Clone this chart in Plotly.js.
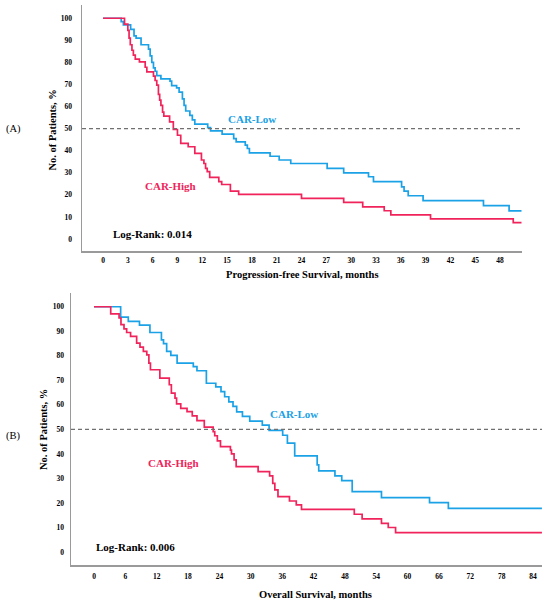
<!DOCTYPE html>
<html>
<head>
<meta charset="utf-8">
<script src="https://cdn.plot.ly/plotly-3.0.1.min.js"></script>
<style>html,body{margin:0;padding:0;background:#fff;}#chart{width:550px;height:605px;}</style>
</head>
<body>
<div id="chart"></div>
<script>
// ---- Data ----
// Progression-free survival, CAR-High
const pfsHighT = [0, 2.6, 3.0, 3.15, 3.3, 3.5, 3.67, 3.9, 4.4, 5.1, 5.3, 6.1, 6.3, 6.5, 6.7, 6.85, 7.0, 7.2, 7.35, 8.05, 8.5, 9.0, 9.4, 10.3, 11.1, 11.9, 12.2, 12.4, 12.6, 12.9, 14.0, 14.35, 15.4, 16.4, 24.0, 29.1, 31.4, 34.0, 34.8, 39.6, 49.6, 50.6];
const pfsHighS = [100, 97.3, 94.5, 91, 88, 85.5, 83.3, 81.5, 80.2, 77.8, 75.7, 73.8, 71.8, 69.7, 65.5, 62.9, 60.5, 57.5, 55.7, 53.1, 49.6, 47, 43.3, 41.8, 38.8, 35.8, 34.2, 32, 30.5, 27.9, 26, 24.7, 21.7, 20.2, 18.4, 16.6, 14.6, 12.8, 10.9, 9.1, 7.4, 7.4];
// Progression-free survival, CAR-Low
const pfsLowT = [0, 2.2, 2.46, 3.34, 3.75, 4.0, 4.6, 5.5, 5.7, 5.9, 6.1, 6.3, 6.5, 7.0, 8.1, 8.3, 8.9, 9.2, 9.6, 9.8, 10.0, 10.5, 10.8, 11.1, 12.66, 13.0, 14.4, 15.8, 16.1, 17.2, 17.45, 17.7, 20.2, 21.3, 22.7, 27.1, 29.1, 32.1, 32.7, 36.1, 36.4, 36.9, 38.7, 46.0, 49.1, 50.6];
const pfsLowS = [100, 98.5, 97, 95, 92, 91, 88, 86, 83, 80, 77.5, 76, 74, 72.5, 71.5, 69.5, 68.5, 66.5, 63.5, 60.5, 58, 56, 54, 52, 50.5, 49, 47.5, 45.5, 44, 42.5, 41, 39, 37.5, 35.8, 34.2, 32, 30, 28.2, 26, 23.6, 21.7, 19.6, 17.4, 15.1, 12.7, 12.7];
// Overall survival, CAR-High
const osHighT = [0, 3.2, 4.8, 5.16, 5.74, 6.25, 7.0, 8.16, 8.8, 9.44, 10.1, 10.5, 10.8, 12.6, 14.4, 14.8, 15.5, 15.8, 16.6, 17.8, 18.8, 19.7, 21.1, 22.8, 23.1, 23.6, 24.2, 26.1, 26.3, 26.8, 27.2, 31.4, 33.6, 34.2, 34.6, 35.2, 37.4, 38.7, 39.7, 49.8, 51.3, 55.0, 56.3, 57.7, 85.7];
const osHighS = [100, 97.1, 95.4, 92.7, 91, 89.5, 87.9, 85.2, 83.5, 81.8, 80.4, 77, 74.3, 70.9, 68.2, 64.8, 62.7, 60.4, 58.6, 57.2, 55.5, 53.6, 50.9, 49.1, 47.4, 45.3, 43, 41.5, 40, 37.6, 34.8, 32.8, 31, 28, 25.3, 22.6, 20.8, 19.2, 17.4, 15.4, 13.5, 11.7, 10.0, 7.9, 7.9];
// Overall survival, CAR-Low
const osLowT = [0, 5.1, 6.56, 8.7, 10.7, 12.9, 13.3, 13.9, 14.7, 15.9, 19.0, 19.7, 21.5, 23.3, 24.3, 25.0, 25.8, 26.6, 27.3, 28.4, 29.8, 32.2, 33.5, 36.1, 37.0, 38.4, 42.7, 43.0, 46.1, 47.4, 49.4, 55.0, 64.2, 67.8, 85.7];
const osLowS = [100, 95.8, 94, 92.5, 89.5, 86.5, 85, 81.8, 80.2, 77, 75.6, 73.9, 68.8, 67.3, 65.4, 63.3, 61.2, 59.4, 57.1, 55.3, 53.4, 51.7, 49.6, 47.6, 44.4, 39.2, 35.5, 33.1, 31, 29.1, 24.6, 22.2, 20.1, 17.8, 17.8];

const pfsTicks = [0, 3, 6, 9, 12, 15, 18, 21, 24, 27, 30, 33, 36, 39, 42, 45, 48];
const osTicks = [0, 6, 12, 18, 24, 30, 36, 42, 48, 54, 60, 66, 72, 78, 84];
const yTicks = [0, 10, 20, 30, 40, 50, 60, 70, 80, 90, 100];
const medianLevel = 50;
const groupNames = ['CAR-High', 'CAR-Low'];
const pfsLogRank = 'Log-Rank: 0.014';
const osLogRank = 'Log-Rank: 0.006';

// ---- Styles ----
const RED = '#F0235A';
const BLUE = '#1BA1E6';
const SERIF = '"Liberation Serif", "Times New Roman", serif';

function km(x, y, color, xa, ya, name) {
  return {x: x, y: y, type: 'scatter', mode: 'lines', line: {shape: 'hv', color: color, width: 1.7},
          xaxis: xa, yaxis: ya, name: name, hoverinfo: 'skip', showlegend: false};
}

const traces = [
  km(pfsLowT, pfsLowS, BLUE, 'x', 'y', groupNames[1]),
  km(pfsHighT, pfsHighS, RED, 'x', 'y', groupNames[0]),
  km(osLowT, osLowS, BLUE, 'x2', 'y2', groupNames[1]),
  km(osHighT, osHighS, RED, 'x2', 'y2', groupNames[0])
];

const tickFont = {family: SERIF, size: 7.5, color: '#000', weight: 'bold'};
function xAxis(domain, range, ticks, anchor, tl) {
  return {domain: domain, range: range, tickvals: ticks, ticktext: ticks.map(String), anchor: anchor,
          showgrid: false, zeroline: false, showline: true, linecolor: '#9a9a9a', linewidth: 1.5,
          ticks: 'outside', ticklen: tl, tickcolor: 'rgba(0,0,0,0)', tickfont: tickFont, fixedrange: true};
}
function yAxis(domain, range, anchor, tl) {
  return {domain: domain, range: range, tickvals: yTicks, ticktext: yTicks.map(String), anchor: anchor,
          showgrid: false, zeroline: false, showline: true, linecolor: '#9a9a9a', linewidth: 1.5,
          ticks: 'outside', ticklen: tl, tickcolor: 'rgba(0,0,0,0)', tickfont: tickFont, fixedrange: true};
}

const annFont = (c) => ({family: SERIF, size: 11, color: c, weight: 'bold'});
const titleFont = {family: SERIF, size: 10.5, color: '#000', weight: 'bold'};
function paperText(px, py, text, font, angle) {
  return {xref: 'paper', yref: 'paper', x: px / 550, y: 1 - py / 605, xanchor: 'center', yanchor: 'middle',
          text: text, showarrow: false, font: font, textangle: angle || 0};
}
function dataText(xr, yr, x, y, text, font) {
  return {xref: xr, yref: yr, x: x, y: y, xanchor: 'center', yanchor: 'middle', text: text, showarrow: false, font: font};
}

const dashLine = {color: '#707070', width: 1.2, dash: '4px,3px'};

const layout = {
  width: 550, height: 605,
  margin: {l: 0, r: 0, t: 0, b: 0},
  paper_bgcolor: '#fff', plot_bgcolor: '#fff',
  showlegend: false,
  xaxis: xAxis([0.1491, 0.9491], [-2.54, 50.66], pfsTicks, 'y', 1),
  yaxis: yAxis([0.5851, 0.9917], [-5.44, 106.0], 'x', 7),
  xaxis2: xAxis([0.1291, 0.9855], [-4.40, 85.72], osTicks, 'y2', 3),
  yaxis2: yAxis([0.0661, 0.5157], [-5.3, 105.6], 'x2', 4),
  shapes: [
    {type: 'line', xref: 'x domain', yref: 'y', x0: 0, x1: 1, y0: medianLevel, y1: medianLevel, line: dashLine},
    {type: 'line', xref: 'x2 domain', yref: 'y2', x0: 0, x1: 1, y0: medianLevel, y1: medianLevel, line: dashLine}
  ],
  annotations: [
    dataText('x', 'y', 18.0, 54.4, groupNames[1], annFont(BLUE)),
    dataText('x', 'y', 8.2, 24.0, groupNames[0], annFont(RED)),
    dataText('x', 'y', 6.0, 2.3, pfsLogRank, annFont('#000')),
    dataText('x2', 'y2', 38.3, 56.3, groupNames[1], annFont(BLUE)),
    dataText('x2', 'y2', 15.3, 36.3, groupNames[0], annFont(RED)),
    dataText('x2', 'y2', 8.0, 2.0, osLogRank, annFont('#000')),
    // axis titles
    paperText(302, 274, 'Progression-free Survival, months', titleFont),
    paperText(315, 594, 'Overall Survival, months', titleFont),
    paperText(52.5, 130, 'No. of Patients, %', titleFont, -90),
    paperText(43, 430, 'No. of Patients, %', titleFont, -90),
    // panel labels
    paperText(13, 129, '(A)', {family: SERIF, size: 10.5, color: '#000'}),
    paperText(13, 436, '(B)', {family: SERIF, size: 10.5, color: '#000'})
  ]
};

Plotly.newPlot('chart', traces, layout, {staticPlot: true, displayModeBar: false});
</script>
</body>
</html>
